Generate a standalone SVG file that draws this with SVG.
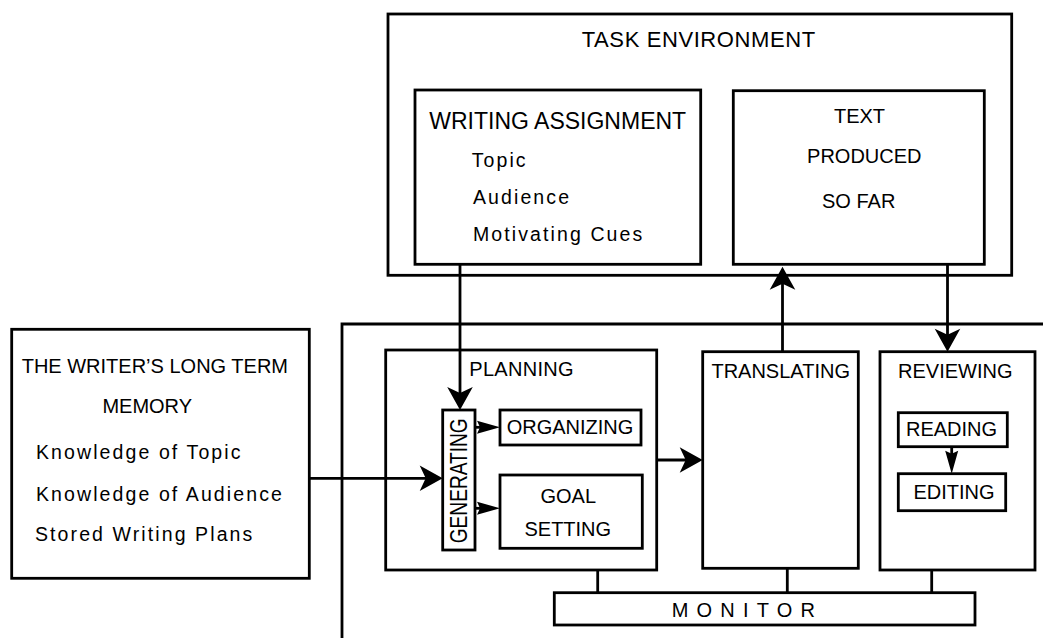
<svg xmlns="http://www.w3.org/2000/svg" width="1043" height="638" viewBox="0 0 1043 638">
<style>
  .box { fill: #fff; stroke: #000; stroke-width: 2.8; }
  .ln { fill: none; stroke: #000; stroke-width: 2.8; }
  .t { font-family: "Liberation Sans", Arial, sans-serif; fill: #000; }
  .cap { font-size: 20px; }
  .big { font-size: 22px; letter-spacing: 0.6px; }
  .hd { font-size: 23px; }
  .lc { font-size: 19.5px; letter-spacing: 2.1px; }
  .mid { text-anchor: middle; }
  .mon { font-size: 20px; letter-spacing: 8.2px; }
</style>
<defs>
  <marker id="big" viewBox="-16 -14 25 28" refX="0" refY="0" markerWidth="25" markerHeight="28" markerUnits="userSpaceOnUse" orient="auto">
    <path d="M8,0 L-15,-12.8 L-9,0 L-15,12.8 Z" fill="#000"/>
  </marker>
  <marker id="small" viewBox="-14 -8 25 16" refX="0" refY="0" markerWidth="25" markerHeight="16" markerUnits="userSpaceOnUse" orient="auto">
    <path d="M10,0 L-13,-6.5 L-10,0 L-13,6.5 Z" fill="#000"/>
  </marker>
</defs>

<g id="task-environment">
  <rect class="box" x="388" y="14" width="623.7" height="261.3"/>
  <text class="t big" x="581.7" y="46.7">TASK ENVIRONMENT</text>
</g>
<g id="writing-assignment">
  <rect class="box" x="415" y="90" width="285.7" height="174.3"/>
  <text class="t hd" x="429.3" y="129.3">WRITING ASSIGNMENT</text>
  <text class="t lc" x="471.7" y="166.7">Topic</text>
  <text class="t lc" x="473" y="204">Audience</text>
  <text class="t lc" x="473" y="240.7">Motivating Cues</text>
</g>
<g id="text-produced">
  <rect class="box" x="733.3" y="90.7" width="251" height="173.6"/>
  <text class="t cap mid" x="859.5" y="123.3">TEXT</text>
  <text class="t cap mid" x="864.3" y="163.3">PRODUCED</text>
  <text class="t cap mid" x="858.7" y="208.3">SO FAR</text>
</g>
<g id="long-term-memory">
  <rect class="box" x="11.7" y="329.3" width="297.6" height="249"/>
  <text class="t cap" x="21.7" y="372.7">THE WRITER’S LONG TERM</text>
  <text class="t cap mid" x="147.2" y="413.3">MEMORY</text>
  <text class="t lc" x="36" y="459.3">Knowledge of Topic</text>
  <text class="t lc" x="36" y="500.7">Knowledge of Audience</text>
  <text class="t lc" x="35" y="540.7">Stored Writing Plans</text>
</g>
<g id="writing-process">
  <path class="ln" d="M1043,324 H342 V638"/>
</g>
<g id="planning">
  <rect class="box" x="385.7" y="350" width="271" height="220"/>
  <text class="t cap" x="469.3" y="376" style="letter-spacing:0.3px">PLANNING</text>
</g>
<g id="generating">
  <rect class="box" x="442.7" y="410" width="32.3" height="140"/>
  <text class="t mid" font-size="23" transform="translate(466.7,480.8) rotate(-90)" textLength="125" lengthAdjust="spacingAndGlyphs">GENERATING</text>
</g>
<g id="organizing">
  <rect class="box" x="500" y="410" width="141" height="35"/>
  <text class="t cap mid" x="570" y="434">ORGANIZING</text>
</g>
<g id="goal-setting">
  <rect class="box" x="500" y="475" width="142.3" height="73.3"/>
  <text class="t cap mid" x="568.3" y="503.3">GOAL</text>
  <text class="t cap mid" x="567.8" y="536">SETTING</text>
</g>
<g id="translating">
  <rect class="box" x="702.7" y="351.7" width="155.6" height="216.6"/>
  <text class="t cap mid" x="780.7" y="378.3">TRANSLATING</text>
</g>
<g id="reviewing">
  <rect class="box" x="880" y="351.7" width="155" height="218.3"/>
  <text class="t cap mid" x="955.3" y="378.3">REVIEWING</text>
</g>
<g id="reading">
  <rect class="box" x="898.3" y="412.7" width="109" height="34"/>
  <text class="t cap mid" x="951.5" y="436">READING</text>
</g>
<g id="editing">
  <rect class="box" x="898.3" y="473.7" width="107.4" height="37"/>
  <text class="t cap mid" x="954" y="499.3">EDITING</text>
</g>
<g id="monitor">
  <rect class="box" x="554.3" y="592.7" width="420.7" height="32.3"/>
  <text class="t mon" x="671.7" y="616.7">MONITOR</text>
</g>

<g id="connectors">
  <line class="ln" x1="460" y1="264.3" x2="460" y2="402" marker-end="url(#big)"/>
  <line class="ln" x1="782.5" y1="351.7" x2="782.5" y2="274.7" marker-end="url(#big)"/>
  <line class="ln" x1="947.5" y1="264.3" x2="947.5" y2="343.7" marker-end="url(#big)"/>
  <line class="ln" x1="309.3" y1="478.3" x2="434.7" y2="478.3" marker-end="url(#big)"/>
  <line class="ln" x1="656.7" y1="460" x2="694.7" y2="460" marker-end="url(#big)"/>
  <line class="ln" x1="475" y1="427.3" x2="490" y2="427.3" marker-end="url(#small)"/>
  <line class="ln" x1="475" y1="508.3" x2="490" y2="508.3" marker-end="url(#small)"/>
  <line class="ln" x1="951.7" y1="446.7" x2="951.7" y2="463.7" marker-end="url(#small)"/>
  <line class="ln" x1="597.7" y1="570" x2="597.7" y2="592.7"/>
  <line class="ln" x1="787.3" y1="568.3" x2="787.3" y2="592.7"/>
  <line class="ln" x1="931.7" y1="570" x2="931.7" y2="592.7"/>
</g>
</svg>
